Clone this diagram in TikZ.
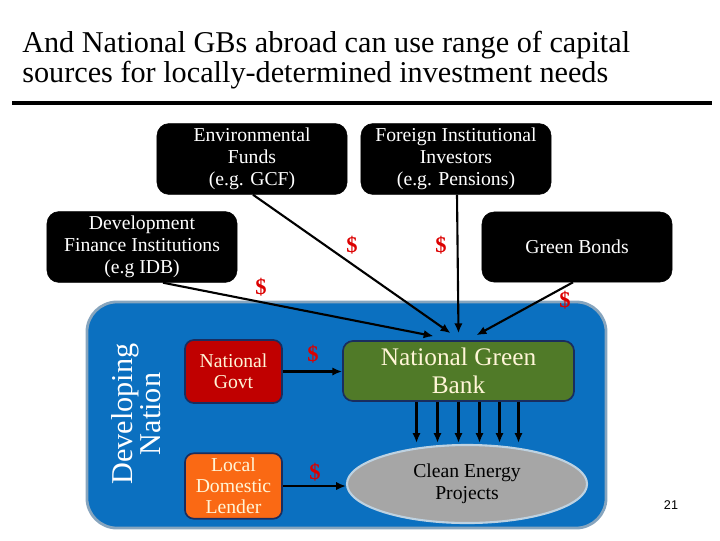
\documentclass[tikz,border=0pt]{standalone}
\usepackage{fontspec}
\setmainfont{Liberation Serif}
\setsansfont{Liberation Sans}
\definecolor{NationBlue}{RGB}{11,112,192}
\definecolor{NationEdge}{RGB}{135,165,190}
\definecolor{BankGreen}{RGB}{80,122,40}
\definecolor{BoxNavy}{RGB}{25,45,95}
\definecolor{GovtRed}{RGB}{192,0,0}
\definecolor{LenderOrange}{RGB}{250,105,20}
\definecolor{ProjGray}{RGB}{166,166,166}
\definecolor{ProjEdge}{RGB}{190,210,225}
\definecolor{DollarRed}{RGB}{220,0,0}
\definecolor{Cream}{RGB}{255,245,215}
\usetikzlibrary{arrows.meta,positioning,calc,shapes.geometric}

\begin{document}
\begin{tikzpicture}[x=0.025cm,y=-0.025cm,
  source/.style={draw=black,fill=black,text=white,rounded corners=0.3cm,minimum width=4.75cm,minimum height=1.75cm,align=center,font=\fontsize{14}{15.5}\selectfont},
  local/.style={draw=BoxNavy,line width=1.2pt,rounded corners=0.22cm,minimum width=2.425cm,minimum height=1.575cm,align=center,text=Cream,font=\fontsize{14}{15}\selectfont},
  dollar/.style={text=DollarRed,font=\fontsize{16}{16}\selectfont\bfseries},
  flow/.style={line width=1.5pt,-{Latex[length=7pt,width=6pt]}}]
\useasboundingbox (0,0) rectangle (720,540);
% heading
\node[anchor=north west,align=left,inner sep=0,font=\fontsize{21.5}{21}\selectfont] (title) at (22,31)
  {And National GBs abroad can use range of capital\\sources for locally-determined investment needs};
\draw[line width=2.2pt] (12,103) -- (712,103);
% the country
\node[draw=NationEdge,line width=2pt,fill=NationBlue,rounded corners=0.75cm,minimum width=12.975cm,minimum height=5.65cm] (nation) at (346.5,415) {};
\node[rotate=90,text=white,align=center,font=\fontsize{21.5}{20}\selectfont] (devnation) at (136,414) {Developing\\Nation};
% outside sources
\node[source] (envfund) at (252,159) {Environmental\\Funds\\(e.g. GCF)};
\node[source] (fii) at (456,159) {Foreign Institutional\\Investors\\(e.g. Pensions)};
\node[source] (dfi) at (142,247) {Development\\Finance Institutions\\(e.g IDB)};
\node[source] (bonds) at (577,247) {Green Bonds};
% inside
\node[local,fill=GovtRed] (govt) at (233.5,371.5) {National\\Govt};
\node[local,fill=LenderOrange] (lender) at (233.5,486) {Local\\Domestic\\Lender};
\node[draw=BoxNavy,line width=1.2pt,fill=BankGreen,rounded corners=0.25cm,minimum width=5.775cm,minimum height=1.5cm,align=center,text=Cream,font=\fontsize{18}{20}\selectfont] (ngb) at (458.5,371) {National Green\\Bank};
\node[ellipse,draw=ProjEdge,line width=1.5pt,fill=ProjGray,minimum width=6cm,minimum height=1.95cm,align=center,font=\fontsize{14}{15.5}\selectfont] (cep) at (467,484) {Clean Energy\\Projects};
% money flows
\draw[flow] ($(dfi.south)+(21,0)$) -- ($(ngb.north)+(-25,-4)$);
\draw[flow] ($(envfund.south)+(1,0)$) -- ($(ngb.north)+(-8,-7)$);
\draw[flow] ($(fii.south)+(1,0)$) -- ($(ngb.north)+(0,-7)$);
\draw[flow] ($(bonds.south)+(-4,0)$) -- ($(ngb.north)+(18,-5)$);
\draw[flow] (govt.east) -- (govt.east -| ngb.west);
\draw[flow] (lender.east) -- (lender.east -| cep.west);
\foreach \dx in {-42,-21,0,21,41,60}
  \draw[flow] ($(ngb.south)+(\dx,0)$) -- ($(ngb.south)+(\dx,41)$);
% dollar signs
\node[dollar] (d1) at (352,245) {\$};
\node[dollar] (d2) at (441,245) {\$};
\node[dollar] (d3) at (261,287) {\$};
\node[dollar] (d4) at (565,300) {\$};
\node[dollar] (d5) at (313,354) {\$};
\node[dollar] (d6) at (315,472) {\$};
\node[font=\sffamily\fontsize{9}{9}\selectfont] (pagenum) at (671,505) {21};
\end{tikzpicture}
\end{document}
